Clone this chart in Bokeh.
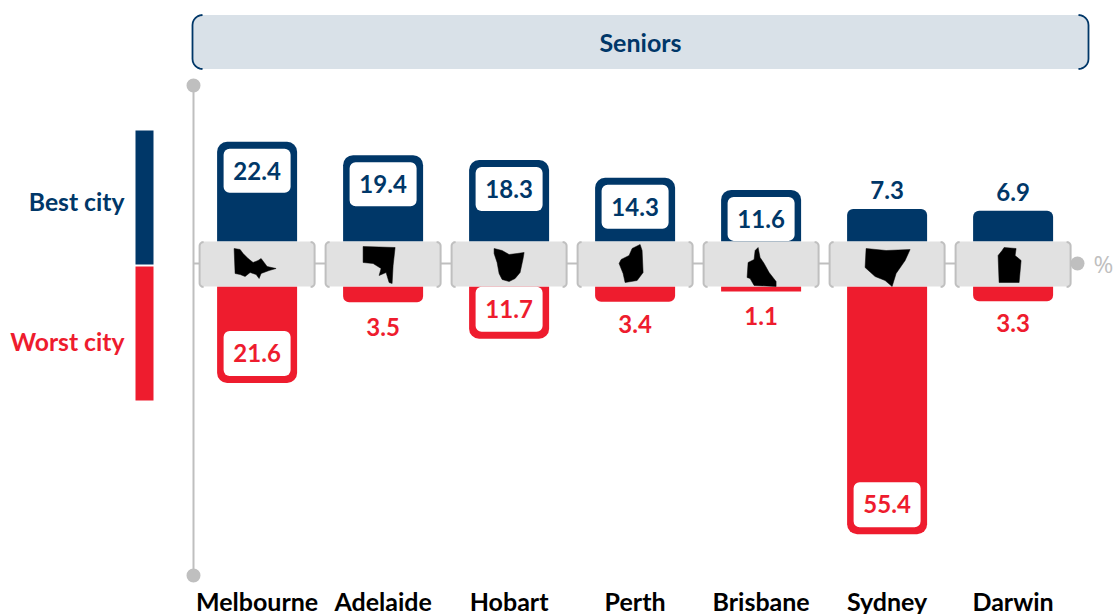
import math
from bokeh.plotting import figure
from bokeh.models import Range1d, ColumnDataSource
from bokeh.core.properties import value
from bokeh.embed import file_html
from bokeh.resources import INLINE

cities = ["Melbourne", "Adelaide", "Hobart", "Perth", "Brisbane", "Sydney", "Darwin"]
best = [22.4, 19.4, 18.3, 14.3, 11.6, 7.3, 6.9]
worst = [21.6, 3.5, 11.7, 3.4, 1.1, 55.4, 3.3]
title = "Seniors"

NAVY = "#003768"
RED = "#EE1C2E"
GREY = "#BFBFBF"
BOX = "#E1E1E1"
HEAD = "#D9E1E8"
FONT = value("Lato")

W, H = 1115, 614
X0, X_STEP = 256.6, 126          # px of first category, spacing
BEST_BASE, BEST_PX = 241, 4.45  # px of zero, px per unit
WORST_BASE, WORST_PX = 286, 4.47
BOX_THRESHOLD = 11.0

# state silhouettes: (x, y) px offsets from the centre of each grey band
shapes = {
    "Melbourne": [(-23,-16),(-17,-15),(-14,-11),(-9,-6),(-4,-2),(1,-4),(4,-6),(7,-2),(10,2),(19,4),(12,6),(4,9),(2,14),(-1,10),(-7,8),(-12,12),(-17,10),(-22,9)],
    "Adelaide": [(-20,-18),(12,-17),(10,1),(9,19),(6,18),(3,8),(-4,11),(-2,4),(-10,-1),(-20,-2)],
    "Hobart": [(-15,-16),(-7,-14),(0,-10),(8,-11),(15,-12),(14,-6),(11,8),(6,14),(0,17),(-7,15),(-10,9),(-12,-2),(-15,-11)],
    "Perth": [(5,-20),(7,-14),(8,8),(2,16),(-10,18),(-12,9),(-16,-1),(-14,-5),(-6,-9),(-3,-16)],
    "Brisbane": [(-3,-17),(-1,-7),(3,-1),(8,8),(15,17),(15,22),(-7,21),(-11,14),(-14,13),(-13,-2),(-7,-5),(-6,-14)],
    "Sydney": [(-21,-16),(-1,-14),(23,-15),(18,-4),(9,9),(5,22),(-2,16),(-12,12),(-22,3)],
    "Darwin": [(-9,-17),(3,-16),(2,-9),(8,-4),(6,18),(-14,18),(-15,-9),(-11,-14)],
}
label_nudge = {"Adelaide": 0, "Perth": -3, "Brisbane": 0, "Darwin": -3}

p = figure(width=W, height=H, output_backend="svg", toolbar_location=None,
           x_range=Range1d(0, W), y_range=Range1d(H, 0), min_border=0)
p.extra_x_ranges["cat"] = Range1d((0 - X0) / X_STEP, (W - X0) / X_STEP)
p.extra_y_ranges["best"] = Range1d((BEST_BASE - H) / BEST_PX, BEST_BASE / BEST_PX)
p.extra_y_ranges["worst"] = Range1d((H - WORST_BASE) / WORST_PX, -WORST_BASE / WORST_PX)
p.axis.visible = False
p.grid.visible = False
p.outline_line_color = None
p.background_fill_color = None
p.border_fill_color = None

idx = list(range(len(cities)))
bar_w = 80 / X_STEP
inner_w = 67 / X_STEP
band_w = 115 / X_STEP
CY = 264


def bracket(x, y0, y1, sgn, r):
    """Open bracket: a vertical edge at x whose rounded ends reach inward."""
    xs, ys = [], []
    for k in range(7):
        a = math.pi / 2 * k / 6
        xs.append(x + sgn * r * (1 - math.sin(a)))
        ys.append(y0 + r * (1 - math.cos(a)))
    for k in range(7):
        a = math.pi / 2 * k / 6
        xs.append(x + sgn * r * (1 - math.cos(a)))
        ys.append(y1 - r * (1 - math.sin(a)))
    return xs, ys


# axes
p.segment(193, 85, 193, 575, line_color=GREY, line_width=2)
p.segment(193, 263, 1077, 263, line_color=GREY, line_width=2)
p.scatter([193, 193, 1077], [85, 575, 263], size=14, color=GREY, line_color=None)
p.text([1103], [263], text=["%"], text_font=value("Open Sans"), text_font_size="24px",
       text_color=GREY, text_align="center", text_baseline="middle")

# header
p.quad(left=192, right=1088, top=14.5, bottom=68.5, fill_color=HEAD, line_color=None, border_radius=10)
bl = bracket(192, 14.5, 68.5, 1, 10)
br = bracket(1088, 14.5, 68.5, -1, 10)
p.multi_line([bl[0], br[0]], [bl[1], br[1]], line_color=NAVY, line_width=1.8)
p.text([640], [41.5], text=[title], text_font=FONT, text_font_style="bold", text_font_size="25px",
       text_color=NAVY, text_align="center", text_baseline="middle")

# legend
p.quad(left=135, right=153, top=130, bottom=264, fill_color=NAVY, line_color=None)
p.quad(left=135, right=153, top=266, bottom=400, fill_color=RED, line_color=None)
p.text([124, 124], [201, 341], text=["Best city", "Worst city"], text_font=FONT,
       text_font_style="bold", text_font_size="24.7px", text_color=[NAVY, RED],
       text_align="right", text_baseline="middle")


def group(vals, lo, hi):
    return [i for i in idx if lo <= vals[i] < hi]


# bars
for lo, hi, r in [(BOX_THRESHOLD, 1e9, 10), (2, BOX_THRESHOLD, 6), (0, 2, 0)]:
    g = group(best, lo, hi)
    if g:
        p.vbar(x=g, width=bar_w, bottom=0, top=[best[i] for i in g], fill_color=NAVY, line_color=None,
               border_radius=(r, r, 0, 0), x_range_name="cat", y_range_name="best")
    g = group(worst, lo, hi)
    if g:
        p.vbar(x=g, width=bar_w, bottom=0, top=[worst[i] for i in g], fill_color=RED, line_color=None,
               border_radius=(0, 0, r, r), x_range_name="cat", y_range_name="worst")

# white value boxes
gb = group(best, BOX_THRESHOLD, 1e9)
p.vbar(x=gb, width=inner_w, top=[best[i] - 7 / BEST_PX for i in gb],
       bottom=[best[i] - 51 / BEST_PX for i in gb], fill_color="white", line_color=None,
       border_radius=6, x_range_name="cat", y_range_name="best")
gw = group(worst, BOX_THRESHOLD, 1e9)
p.vbar(x=gw, width=inner_w, top=[worst[i] - 7 / WORST_PX for i in gw],
       bottom=[worst[i] - 52 / WORST_PX for i in gw], fill_color="white", line_color=None,
       border_radius=6, x_range_name="cat", y_range_name="worst")

# grey bands with side brackets
p.vbar(x=idx, width=band_w, bottom=0, top=-(WORST_BASE - BEST_BASE) / WORST_PX,
       fill_color=BOX, line_color=None, border_radius=5, x_range_name="cat", y_range_name="worst")
mx, my = [], []
for i in idx:
    c = X0 + i * X_STEP
    for sgn in (1, -1):
        bx, by = bracket(c - sgn * 57.5, 241.5, 286.5, sgn, 4)
        mx.append(bx)
        my.append(by)
p.multi_line(mx, my, line_color=GREY, line_width=2)

# silhouettes
xs = [[i + dx / X_STEP for dx, _ in shapes[c]] for i, c in enumerate(cities)]
ys = [[CY + dy for _, dy in shapes[c]] for c in cities]
src = ColumnDataSource(dict(xs=xs, ys=ys))
p.patches("xs", "ys", source=src, fill_color="black", line_color="black", line_width=0.5, x_range_name="cat")

# value labels
LABEL = "24px"
for vals, rng, col, sign in [(best, "best", NAVY, 1), (worst, "worst", RED, -1)]:
    inside = group(vals, BOX_THRESHOLD, 1e9)
    outside = group(vals, 0, BOX_THRESHOLD)
    in_off = 29 if sign > 0 else -30
    out_off = -19 if sign > 0 else 25
    for g, off in [(inside, in_off), (outside, out_off)]:
        nudges = [label_nudge.get(cities[i], 0) if sign < 0 else 0 for i in g]
        src = ColumnDataSource(dict(x=g, y=[vals[i] + (-n / WORST_PX * -1 if sign < 0 else 0) for i, n in zip(g, nudges)],
                                    t=[f"{vals[i]:.1f}" for i in g]))
        p.text(x="x", y="y", text="t", source=src, y_offset=off,
               text_font=FONT, text_font_style="bold", text_font_size=LABEL, text_color=col,
               text_align="center", text_baseline="middle", x_range_name="cat", y_range_name=rng)

# category labels
p.text(x=idx, y=[600] * 7, text=cities, text_font=FONT, text_font_style="bold", text_font_size="25px",
       text_color="black", text_align="center", text_baseline="middle", x_range_name="cat")

open("out.html", "w").write(file_html(p, INLINE))
